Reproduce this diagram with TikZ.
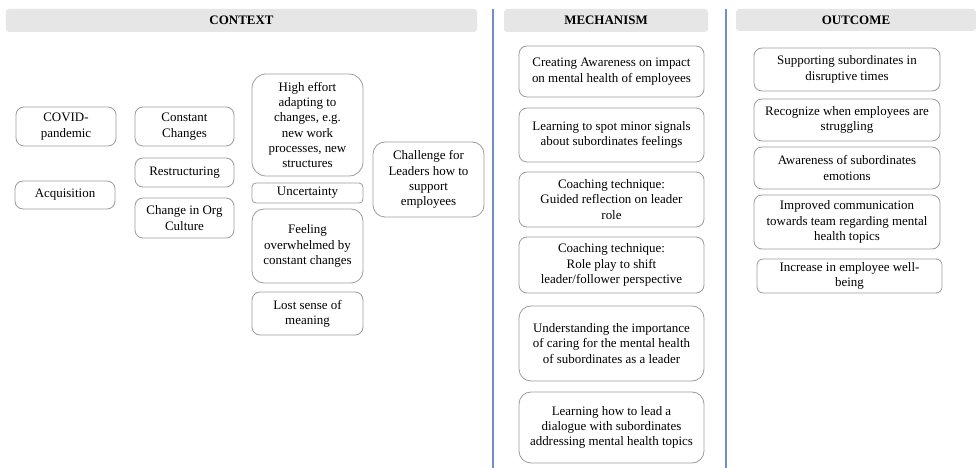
\documentclass[tikz,border=0pt]{standalone}
\usepackage{fontspec}
\setmainfont{Liberation Serif}
\definecolor{boxgray}{HTML}{9C9C9C}
\definecolor{headfill}{HTML}{E6E6E6}
\definecolor{sepblue}{HTML}{6F8FC6}
\newcommand{\bodyfont}{\fontsize{13}{15.3}\selectfont}
\newcommand{\headfont}{\fontsize{13}{15}\selectfont\bfseries}
\begin{document}
\begin{tikzpicture}[x=1bp,y=-1bp,
  box/.style={draw=boxgray, line width=0.8bp, rounded corners=8bp, align=center,
              inner sep=0pt, font=\bodyfont, text=black},
  wh/.style 2 args={minimum width=#1bp, minimum height=#2bp},
  header/.style={fill=headfill, rounded corners=3bp, inner sep=0pt,
                 font=\headfont, text=black},
  separator/.style={draw=sepblue, line width=1.6bp}]
\useasboundingbox (0,0) rectangle (976,468);
\fill[white] (0,0) rectangle (976,468);

% column headers
\node[header, wh={471}{23}] (hctx) at (241.5,20.5) {CONTEXT};
\node[header, wh={204}{23}] (hmech) at (606,20.5) {MECHANISM};
\node[header, wh={240}{22}] (hout) at (856,20) {OUTCOME};

% column separators
\draw[separator] (493,9) -- (493,468);
\draw[separator] (726,9) -- (726,468);

% context: causes
\node[box, wh={100}{39}] (covid) at (66,126.5) {COVID-\\pandemic};
\node[box, wh={100}{28}] (acq) at (65,195) {Acquisition};

% context: organisational changes
\node[box, wh={99}{39}] (constant) at (184.5,126.5) {Constant\\Changes};
\node[box, wh={99}{29}] (restr) at (184.5,172.5) {Restructuring};
\node[box, wh={99}{40}] (culture) at (184.5,218) {Change in Org\\Culture};

% context: consequences for employees
\node[box, wh={111}{102}, rounded corners=14bp] (effort) at (307.5,125)
  {High effort\\adapting to\\changes, e.g.\\new work\\processes, new\\structures};
\node[box, wh={111}{20}, rounded corners=4bp] (uncert) at (307.5,193) {Uncertainty};
\node[box, wh={111}{74}, rounded corners=12bp] (overwh) at (307.5,246)
  {Feeling\\overwhelmed by\\constant changes};
\node[box, wh={111}{43}] (lost) at (307.5,313.5) {Lost sense of\\meaning};

% context: leadership challenge
\node[box, wh={111}{75}, rounded corners=12bp] (challenge) at (428.5,179.5)
  {Challenge for\\Leaders how to\\support\\employees};

% mechanism
\node[box, wh={185}{51}] (m1) at (611.5,71.5)
  {Creating Awareness on impact\\on mental health of employees};
\node[box, wh={185}{54}] (m2) at (611.5,135)
  {Learning to spot minor signals\\about subordinates feelings};
\node[box, wh={185}{55}] (m3) at (611.5,199.5)
  {Coaching technique:\\Guided reflection on leader\\role};
\node[box, wh={185}{56}] (m4) at (611.5,265)
  {Coaching technique:\\Role play to shift\\leader/follower perspective};
\node[box, wh={185}{75}, rounded corners=12bp] (m5) at (611.5,343.5)
  {Understanding the importance\\of caring for the mental health\\of subordinates as a leader};
\node[box, wh={185}{71}, rounded corners=12bp] (m6) at (611.5,427.5)
  {Learning how to lead a\\dialogue with subordinates\\addressing mental health topics};

% outcome
\node[box, wh={186}{43}] (o1) at (847,69.5)
  {Supporting subordinates in\\disruptive times};
\node[box, wh={186}{42}] (o2) at (847,120)
  {Recognize when employees are\\struggling};
\node[box, wh={186}{42}] (o3) at (847,168)
  {Awareness of subordinates\\emotions};
\node[box, wh={186}{54}] (o4) at (847,222)
  {Improved communication\\towards team regarding mental\\health topics};
\node[box, wh={185}{34}, rounded corners=6bp] (o5) at (849.5,276)
  {Increase in employee well-\\being};
\end{tikzpicture}
\end{document}
